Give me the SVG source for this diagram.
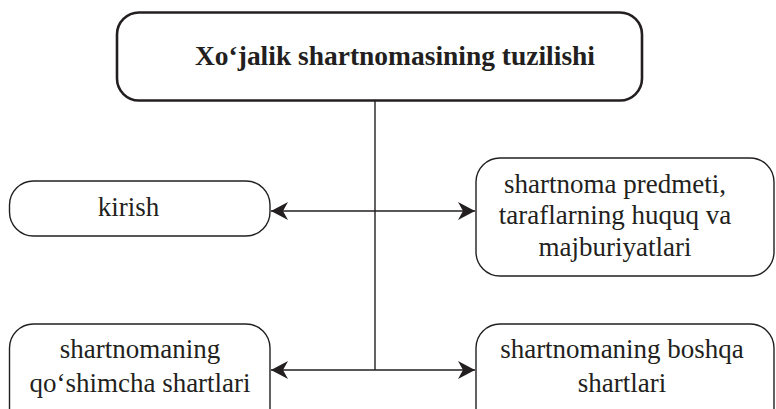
<svg xmlns="http://www.w3.org/2000/svg" width="776" height="409" viewBox="0 0 776 409">
  <style>
    .box { fill: #fff; stroke: #231f20; stroke-width: 1.4; }
    .main { fill: #fff; stroke: #231f20; stroke-width: 2.6; }
    .t { font-family: 'Liberation Serif', 'DejaVu Serif', serif; font-size: 27px; fill: #231f20; text-anchor: middle; }
    .tb { font-family: 'Liberation Serif', 'DejaVu Serif', serif; font-size: 28px; font-weight: bold; fill: #231f20; }
    .ln { fill: none; stroke: #231f20; stroke-width: 1.4; }
  </style>
  <defs>
    <marker id="ah" viewBox="-18 -10 20 20" refX="0" refY="0" markerWidth="20" markerHeight="20" markerUnits="userSpaceOnUse" orient="auto">
      <path d="M0,0 L-17,-9 L-12,0 L-17,9 Z" fill="#231f20"/>
    </marker>
  </defs>
  <g id="node-title">
    <rect class="main" x="117" y="12.5" width="525" height="88" rx="22"/>
    <text class="tb" x="195" y="65" textLength="400" lengthAdjust="spacingAndGlyphs">Xo‘jalik shartnomasining tuzilishi</text>
  </g>
  <g id="node-kirish">
    <rect class="box" x="9.5" y="181" width="260.5" height="55" rx="24"/>
    <text class="t" x="128.5" y="216">kirish</text>
  </g>
  <g id="node-predmet">
    <rect class="box" x="476" y="158" width="298" height="118" rx="24"/>
    <text class="t" x="615" y="193">shartnoma predmeti,</text>
    <text class="t" x="615" y="224">taraflarning huquq va</text>
    <text class="t" x="615" y="256">majburiyatlari</text>
  </g>
  <g id="node-qoshimcha">
    <rect class="box" x="9.5" y="324" width="260.5" height="110" rx="24"/>
    <text class="t" x="140" y="358">shartnomaning</text>
    <text class="t" x="140" y="392">qo‘shimcha shartlari</text>
  </g>
  <g id="node-boshqa">
    <rect class="box" x="476" y="324" width="298" height="110" rx="24"/>
    <text class="t" x="622" y="358">shartnomaning boshqa</text>
    <text class="t" x="622" y="392">shartlari</text>
  </g>
  <g id="connectors">
    <line class="ln" x1="375" y1="101" x2="375" y2="370"/>
    <line class="ln" x1="375" y1="211" x2="271" y2="211" marker-end="url(#ah)"/>
    <line class="ln" x1="375" y1="211" x2="475" y2="211" marker-end="url(#ah)"/>
    <line class="ln" x1="375" y1="370" x2="271" y2="370" marker-end="url(#ah)"/>
    <line class="ln" x1="375" y1="370" x2="475" y2="370" marker-end="url(#ah)"/>
  </g>
</svg>
